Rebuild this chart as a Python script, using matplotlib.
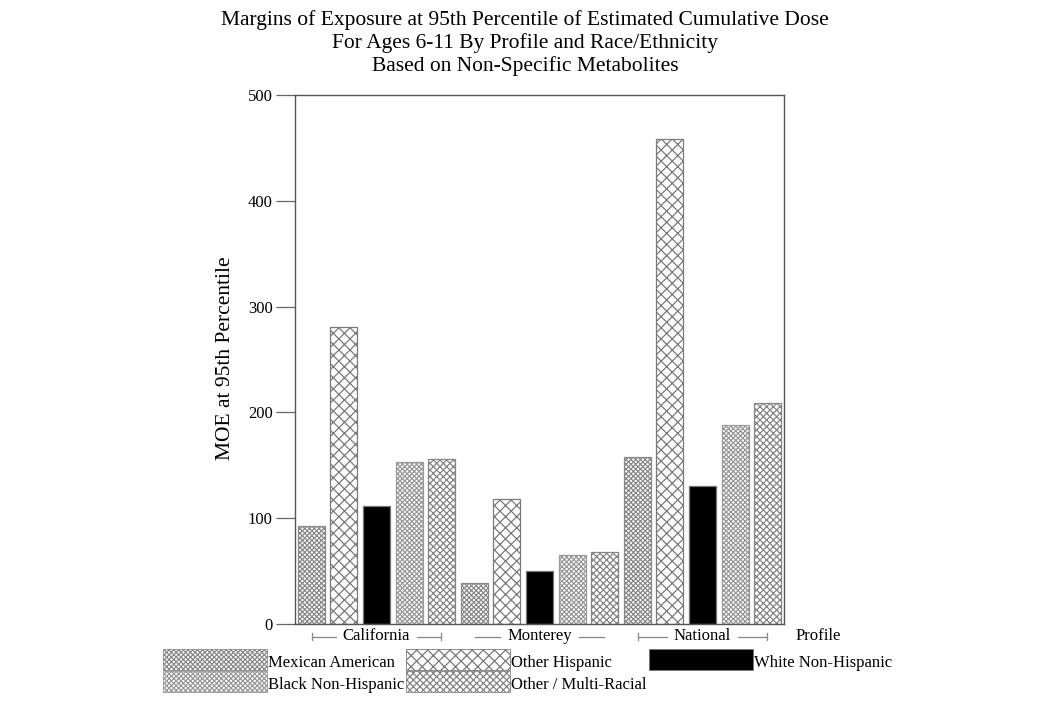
import matplotlib
matplotlib.use("Agg")
import matplotlib.pyplot as plt
from matplotlib.patches import Rectangle
import matplotlib.transforms as mtransforms

plt.rcParams['font.family'] = ['Liberation Serif', 'DejaVu Serif']
plt.rcParams['hatch.linewidth'] = 0.9

title = ("Margins of Exposure at 95th Percentile of Estimated Cumulative Dose\n"
         "For Ages 6-11 By Profile and Race/Ethnicity\n"
         "Based on Non-Specific Metabolites")
profiles = ["California", "Monterey", "National"]
series = ["Mexican American", "Other Hispanic", "White Non-Hispanic",
          "Black Non-Hispanic", "Other / Multi-Racial"]
mexican_american = [93, 39, 158]
other_hispanic = [281, 118, 458]
white_non_hispanic = [112, 50, 130]
black_non_hispanic = [153, 65, 188]
other_multi_racial = [156, 68, 209]
values = {
    "Mexican American": mexican_american,
    "Other Hispanic": other_hispanic,
    "White Non-Hispanic": white_non_hispanic,
    "Black Non-Hispanic": black_non_hispanic,
    "Other / Multi-Racial": other_multi_racial,
}
yticks = [0, 100, 200, 300, 400, 500]
ylabel = "MOE at 95th Percentile"
xlabel = "Profile"

styles = {
    "Mexican American":     dict(facecolor="white", edgecolor="#8a8a8a", hatch="xxxxxxx"),
    "Other Hispanic":       dict(facecolor="white", edgecolor="#7a7a7a", hatch="xxx"),
    "White Non-Hispanic":   dict(facecolor="black", edgecolor="#777777", hatch=None),
    "Black Non-Hispanic":   dict(facecolor="white", edgecolor="#999999", hatch="xxxxxxx"),
    "Other / Multi-Racial": dict(facecolor="white", edgecolor="#858585", hatch="xxxxx"),
}

W, H = 1050, 701
fig = plt.figure(figsize=(W / 100, H / 100), dpi=100)
ax = fig.add_axes([295 / W, 1 - 624 / H, (784 - 295) / W, (624 - 95) / H])

nser = len(series)
for g, prof in enumerate(profiles):
    for s, name in enumerate(series):
        pos = g * nser + s
        ax.bar(pos, values[name][g], width=0.83, linewidth=0.9, **styles[name])

ax.set_xlim(-0.5, len(profiles) * nser - 0.5)
ax.set_ylim(0, 500)
ax.set_yticks(yticks)
ax.set_yticklabels([str(t) for t in yticks], fontsize=12)
ax.set_xticks([])
ax.tick_params(axis='y', length=14, width=0.9, color="#666666", pad=2)
for sp in ax.spines.values():
    sp.set_color("#555555")
    sp.set_linewidth(1.0)

fig.text(226 / W, 1 - 358 / H, ylabel, rotation=90, ha="center", va="center", fontsize=15.5)

trans = mtransforms.blended_transform_factory(ax.transData, ax.transAxes)
ylab = -12.5 / (624 - 95)
fig.canvas.draw()
renderer = fig.canvas.get_renderer()
for g, prof in enumerate(profiles):
    c = g * nser + (nser - 1) / 2
    x0, x1 = c - 1.97, c + 1.97
    t = ax.text(c, ylab, prof, transform=trans, ha="center", va="center", fontsize=12)
    bb = t.get_window_extent(renderer=renderer)
    inv = ax.transData.inverted()
    lx = inv.transform((bb.x0 - 7, 0))[0]
    rx = inv.transform((bb.x1 + 7, 0))[0]
    ax.plot([x0, lx], [ylab, ylab], color="#888888", lw=0.9, transform=trans, clip_on=False)
    ax.plot([rx, x1], [ylab, ylab], color="#888888", lw=0.9, transform=trans, clip_on=False)
    if prof != "Monterey":
        for xx in (x0, x1):
            ax.plot([xx, xx], [ylab - 0.006, ylab + 0.006], color="#888888", lw=0.9,
                    transform=trans, clip_on=False)
fig.text(818 / W, 1 - 636 / H, xlabel, ha="center", va="center", fontsize=12)

fig.text(0.5, 1 - 10 / H, title, ha="center", va="top", fontsize=15.5, linespacing=1.22)

legend_layout = [
    ("Mexican American", 163, 649), ("Other Hispanic", 406, 649), ("White Non-Hispanic", 649, 649),
    ("Black Non-Hispanic", 163, 671), ("Other / Multi-Racial", 406, 671),
]
pw, ph = 104, 21
for name, px, py in legend_layout:
    st = styles[name]
    r = Rectangle((px / W, 1 - (py + ph) / H), pw / W, ph / H, transform=fig.transFigure,
                  facecolor=st["facecolor"], edgecolor=st["edgecolor"], hatch=st["hatch"],
                  linewidth=0.6)
    fig.patches.append(r)
    fig.text((px + pw + 1) / W, 1 - (py + ph + 1) / H, name, ha="left", va="bottom", fontsize=12)

fig.savefig("out.png", dpi=100)
